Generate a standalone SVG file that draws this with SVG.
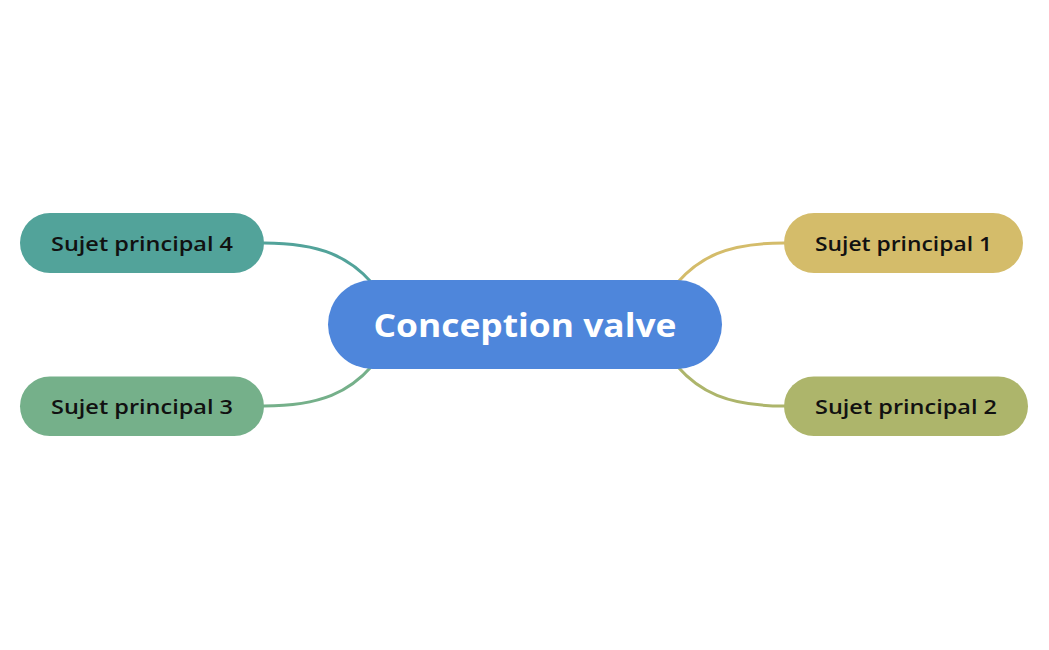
<svg xmlns="http://www.w3.org/2000/svg" width="1049" height="650" viewBox="0 0 1049 650">
<style>
.sub{font-family:"Open Sans","Liberation Sans",sans-serif;font-weight:600;font-size:19px;fill:#111;text-anchor:middle}
.main{font-family:"Open Sans","Liberation Sans",sans-serif;font-weight:700;font-size:33px;fill:#fff;text-anchor:middle}
.c{fill:none;stroke-width:3;stroke-linecap:round}
</style>
<rect width="1049" height="650" fill="#fff"/>
<g id="connectors">
<path class="c" stroke="#52A39A" d="M264,243 C322,243 350,258 372,283"/>
<path class="c" stroke="#75B08A" d="M264,406 C322,406 350,391 372,366"/>
<path class="c" stroke="#D4BC6A" d="M784,243 C726,243 699,258 677,283"/>
<path class="c" stroke="#ADB56B" d="M784,406 C726,406 699,391 677,366"/>
</g>
<g id="center">
<rect x="328" y="280" width="394" height="89" rx="44.5" fill="#4E86DB"/>
<text class="main" x="525" y="337" textLength="303" lengthAdjust="spacingAndGlyphs">Conception valve</text>
</g>
<g id="node4">
<rect x="20" y="213" width="244" height="60" rx="30" fill="#52A39A"/>
<text class="sub" x="142" y="251" textLength="182" lengthAdjust="spacingAndGlyphs">Sujet principal 4</text>
</g>
<g id="node3">
<rect x="20" y="376.5" width="244" height="59.5" rx="29.75" fill="#75B08A"/>
<text class="sub" x="142" y="414" textLength="182" lengthAdjust="spacingAndGlyphs">Sujet principal 3</text>
</g>
<g id="node1">
<rect x="784" y="213" width="239" height="60" rx="30" fill="#D4BC6A"/>
<text class="sub" x="903.5" y="251" textLength="177" lengthAdjust="spacingAndGlyphs">Sujet principal 1</text>
</g>
<g id="node2">
<rect x="784" y="376.5" width="244" height="59.5" rx="29.75" fill="#ADB56B"/>
<text class="sub" x="906" y="414" textLength="182" lengthAdjust="spacingAndGlyphs">Sujet principal 2</text>
</g>
</svg>
